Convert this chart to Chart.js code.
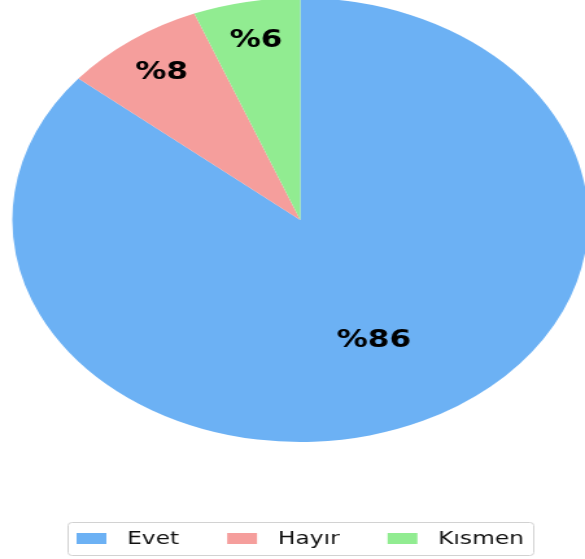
<!DOCTYPE html>
<html>
<head>
<meta charset="utf-8">
<script src="https://cdn.jsdelivr.net/npm/chart.js@4.4.0/dist/chart.umd.min.js"></script>
<style>
  html, body { margin: 0; padding: 0; background: #fff; overflow: hidden; }
  /* the reference figure is stretched horizontally, so draw narrow and stretch */
  #wrap { width: 451px; height: 559px; transform: scaleX(1.2971); transform-origin: 0 0; }
</style>
</head>
<body>
<div id="wrap"><canvas id="pie"></canvas></div>
<script>
const labels = ['Evet', 'Hayır', 'Kısmen'];
const values = [86, 8, 6];
const colors = ['#6cb1f4', '#f59e9c', '#91ec91'];
const labelDist = [0.6, 0.82, 0.82];

const fontFamily = '"DejaVu Sans", sans-serif';

// ── percent labels on the wedges ──────────────────────────────
const pctLabels = {
  id: 'pctLabels',
  afterDatasetsDraw(chart) {
    const ctx = chart.ctx;
    const meta = chart.getDatasetMeta(0);
    ctx.save();
    ctx.font = 'bold 24px ' + fontFamily;
    ctx.fillStyle = '#000';
    ctx.textAlign = 'center';
    ctx.textBaseline = 'middle';
    meta.data.forEach((arc, i) => {
      const p = arc.getProps(['x', 'y', 'startAngle', 'endAngle', 'outerRadius'], true);
      const mid = (p.startAngle + p.endAngle) / 2;
      const r = p.outerRadius * labelDist[i];
      ctx.fillText('%' + values[i], p.x + Math.cos(mid) * r, p.y + Math.sin(mid) * r);
    });
    ctx.restore();
  }
};

// ── framed legend at the bottom ───────────────────────────────
const boxLegend = {
  id: 'boxLegend',
  afterDraw(chart) {
    const ctx = chart.ctx;
    const top = 522.5, bottom = 555.5, left = 52.5, right = 411.5;
    ctx.save();
    ctx.strokeStyle = '#d2d2d2';
    ctx.lineWidth = 1;
    ctx.beginPath();
    ctx.roundRect(left, top, right - left, bottom - top, 3);
    ctx.stroke();

    ctx.font = '18px ' + fontFamily;
    ctx.textBaseline = 'middle';
    let x = 59;
    const cy = 538.5;
    labels.forEach((lab, i) => {
      ctx.fillStyle = colors[i];
      ctx.fillRect(x, cy - 5.5, 23, 11);
      x += 23 + 16;
      ctx.fillStyle = '#111';
      ctx.fillText(lab, x, cy + 1);
      x += ctx.measureText(lab).width + 37;
    });
    ctx.restore();
  }
};

new Chart(document.getElementById('pie'), {
  type: 'pie',
  data: {
    labels,
    datasets: [{
      data: values,
      backgroundColor: colors,
      borderWidth: 0,
      hoverOffset: 0,
    }],
  },
  options: {
    responsive: true,
    maintainAspectRatio: false,
    animation: false,
    radius: 222,
    layout: { padding: { top: 0, bottom: 119, left: 12, right: 0 } },
    plugins: {
      legend: { display: false },
      tooltip: { enabled: false },
    },
  },
  plugins: [pctLabels, boxLegend],
});
</script>
</body>
</html>
